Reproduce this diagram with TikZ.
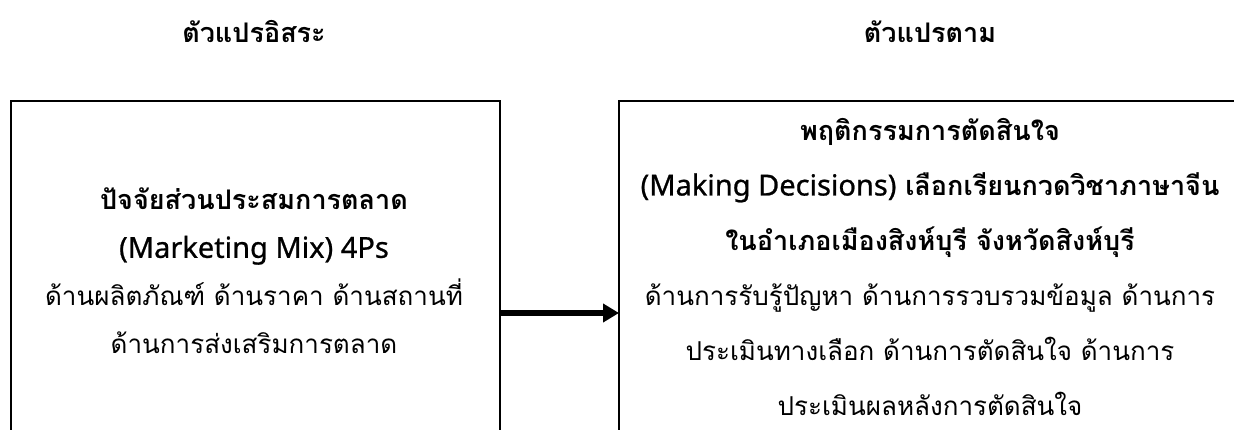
\documentclass[tikz,border=0pt]{standalone}
\usepackage{fontspec}
\setmainfont[Script=Thai]{Loma}
\newfontfamily\latinfont[FakeBold=0.8]{Noto Sans}
\newcommand{\lat}[1]{{\latinfont\mdseries\fontsize{29}{29}\selectfont #1}}
\newcommand{\tb}[1]{{\bfseries\fontsize{27}{27}\selectfont #1}}
\usetikzlibrary{arrows.meta}
\tikzset{
  frame/.style={draw=black, line width=2pt, rectangle, anchor=north west, inner sep=0pt},
  heading/.style={font=\fontsize{27}{32}\selectfont\bfseries},
  body/.style={align=center, inner sep=0pt},
  link/.style={line width=5pt, -{Triangle[length=16pt,width=18pt]}, shorten >=-1pt}
}
\begin{document}
\begin{tikzpicture}[x=1pt,y=-1pt]
\clip (0,0) rectangle (1234,430);
\fill[white] (0,0) rectangle (1234,430);
\node[heading] (t1) at (254,32) {ตัวแปรอิสระ};
\node[heading] (t2) at (930,32) {ตัวแปรตาม};
\node[frame, minimum width=489pt, minimum height=360pt] (L) at (10,100) {};
\node[frame, minimum width=640pt, minimum height=360pt] (R) at (618,100) {};
\node[body, font=\fontsize{26}{48}\selectfont] (Lt) at (254,271)
  {\tb{ปัจจัยส่วนประสมการตลาด}\\ \lat{(Marketing Mix) 4Ps}\\ ด้านผลิตภัณฑ์ ด้านราคา ด้านสถานที่\\ ด้านการส่งเสริมการตลาด};
\node[body, font=\fontsize{26}{55}\selectfont] (Rt) at (930,267)
  {\tb{พฤติกรรมการตัดสินใจ}\\ \lat{(Making Decisions)} \tb{เลือกเรียนกวดวิชาภาษาจีน}\\ \tb{ในอำเภอเมืองสิงห์บุรี จังหวัดสิงห์บุรี}\\ ด้านการรับรู้ปัญหา ด้านการรวบรวมข้อมูล ด้านการ\\ ประเมินทางเลือก ด้านการตัดสินใจ ด้านการ\\ ประเมินผลหลังการตัดสินใจ};
\coordinate (ay) at (0,313);
\draw[link] (L.east |- ay) -- (R.west |- ay);
\end{tikzpicture}
\end{document}
